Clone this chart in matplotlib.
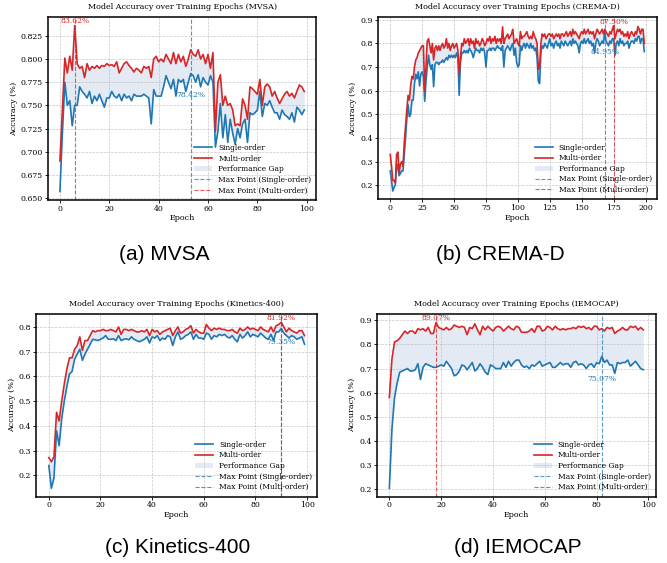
import numpy as np
import matplotlib
matplotlib.use("Agg")
import matplotlib.pyplot as plt

plt.rcParams['font.family'] = 'DejaVu Serif'

# ---- data (accuracy per epoch) ----
mvsa_single = [0.657, 0.720, 0.775, 0.750, 0.755, 0.728, 0.750, 0.750, 0.770, 0.765,
               0.762, 0.758, 0.765, 0.752, 0.760, 0.755, 0.762, 0.755, 0.748, 0.758,
               0.758, 0.765, 0.760, 0.758, 0.762, 0.755, 0.762, 0.758, 0.760, 0.755,
               0.762, 0.760, 0.760, 0.760, 0.762, 0.760, 0.758, 0.730, 0.767, 0.760,
               0.760, 0.760, 0.770, 0.782, 0.775, 0.768, 0.778, 0.760, 0.778, 0.775,
               0.778, 0.765, 0.775, 0.7842, 0.782, 0.775, 0.783, 0.770, 0.780, 0.775,
               0.772, 0.782, 0.775, 0.705, 0.722, 0.752, 0.715, 0.740, 0.710, 0.735,
               0.720, 0.708, 0.725, 0.715, 0.730, 0.735, 0.710, 0.742, 0.740, 0.742,
               0.745, 0.765, 0.738, 0.752, 0.750, 0.755, 0.748, 0.742, 0.742, 0.735,
               0.745, 0.740, 0.738, 0.735, 0.742, 0.732, 0.748, 0.745, 0.740, 0.745]
mvsa_multi = [0.690, 0.745, 0.801, 0.785, 0.803, 0.788, 0.8362, 0.795, 0.790, 0.792,
              0.780, 0.795, 0.788, 0.792, 0.790, 0.793, 0.790, 0.793, 0.792, 0.795,
              0.793, 0.794, 0.792, 0.797, 0.785, 0.790, 0.795, 0.797, 0.793, 0.790,
              0.786, 0.790, 0.788, 0.785, 0.792, 0.790, 0.792, 0.780, 0.800, 0.803,
              0.797, 0.800, 0.797, 0.805, 0.800, 0.795, 0.807, 0.795, 0.805, 0.797,
              0.803, 0.792, 0.800, 0.810, 0.805, 0.803, 0.810, 0.800, 0.805, 0.795,
              0.805, 0.790, 0.807, 0.722, 0.775, 0.783, 0.750, 0.760, 0.750, 0.752,
              0.745, 0.728, 0.730, 0.728, 0.757, 0.750, 0.735, 0.770, 0.768, 0.765,
              0.762, 0.778, 0.750, 0.770, 0.773, 0.770, 0.760, 0.765, 0.758, 0.752,
              0.757, 0.762, 0.765, 0.760, 0.763, 0.758, 0.765, 0.772, 0.770, 0.765]

crema_single = [0.26, 0.22, 0.175, 0.19, 0.20, 0.29, 0.27, 0.24, 0.25, 0.26,
                0.26, 0.33, 0.40, 0.48, 0.54, 0.49, 0.50, 0.56, 0.56, 0.63,
                0.67, 0.65, 0.68, 0.62, 0.67, 0.68, 0.66, 0.555, 0.64, 0.70,
                0.75, 0.71, 0.69, 0.71, 0.617, 0.71, 0.72, 0.72, 0.71, 0.72,
                0.72, 0.73, 0.72, 0.73, 0.74, 0.73, 0.75, 0.74, 0.75, 0.74,
                0.75, 0.74, 0.76, 0.74, 0.58, 0.72, 0.76, 0.76, 0.77, 0.76,
                0.77, 0.76, 0.78, 0.77, 0.76, 0.74, 0.76, 0.78, 0.77, 0.77,
                0.76, 0.78, 0.77, 0.78, 0.76, 0.70, 0.77, 0.77, 0.78, 0.77,
                0.78, 0.78, 0.77, 0.78, 0.79, 0.78, 0.78, 0.77, 0.79, 0.70,
                0.77, 0.78, 0.79, 0.78, 0.77, 0.79, 0.80, 0.75, 0.78, 0.72,
                0.70, 0.71, 0.79, 0.77, 0.79, 0.80, 0.78, 0.80, 0.79, 0.78,
                0.80, 0.78, 0.79, 0.77, 0.78, 0.74, 0.64, 0.63, 0.76, 0.79,
                0.78, 0.80, 0.79, 0.78, 0.80, 0.82, 0.79, 0.80, 0.78, 0.80,
                0.81, 0.79, 0.80, 0.78, 0.81, 0.80, 0.79, 0.81, 0.80, 0.79,
                0.80, 0.81, 0.79, 0.82, 0.80, 0.81, 0.80, 0.79, 0.76, 0.80,
                0.81, 0.80, 0.82, 0.80, 0.81, 0.82, 0.80, 0.81, 0.79, 0.80,
                0.76, 0.80, 0.82, 0.81, 0.79, 0.80, 0.81, 0.80, 0.8495, 0.81,
                0.80, 0.79, 0.81, 0.80, 0.82, 0.82, 0.75, 0.80, 0.81, 0.79,
                0.82, 0.80, 0.81, 0.79, 0.80, 0.80, 0.81, 0.78, 0.80, 0.81,
                0.81, 0.80, 0.82, 0.81, 0.83, 0.83, 0.80, 0.82, 0.82, 0.765]
crema_multi = [0.33, 0.28, 0.22, 0.22, 0.21, 0.33, 0.34, 0.25, 0.29, 0.30,
               0.28, 0.38, 0.45, 0.52, 0.58, 0.56, 0.62, 0.66, 0.65, 0.70,
               0.73, 0.74, 0.76, 0.77, 0.78, 0.79, 0.79, 0.60, 0.70, 0.81,
               0.82, 0.79, 0.76, 0.80, 0.73, 0.78, 0.79, 0.77, 0.79, 0.77,
               0.79, 0.80, 0.78, 0.79, 0.82, 0.78, 0.80, 0.77, 0.79, 0.80,
               0.78, 0.79, 0.80, 0.77, 0.67, 0.74, 0.80, 0.79, 0.82, 0.80,
               0.81, 0.82, 0.79, 0.82, 0.80, 0.81, 0.78, 0.82, 0.80, 0.81,
               0.79, 0.80, 0.82, 0.81, 0.79, 0.80, 0.82, 0.81, 0.83, 0.80,
               0.82, 0.81, 0.83, 0.80, 0.82, 0.81, 0.82, 0.80, 0.87, 0.80,
               0.82, 0.83, 0.84, 0.82, 0.83, 0.84, 0.86, 0.80, 0.81, 0.82,
               0.80, 0.79, 0.85, 0.82, 0.83, 0.83, 0.84, 0.85, 0.83, 0.82,
               0.83, 0.82, 0.85, 0.83, 0.82, 0.80, 0.69, 0.70, 0.80, 0.84,
               0.83, 0.84, 0.82, 0.83, 0.84, 0.84, 0.83, 0.84, 0.82, 0.83,
               0.84, 0.83, 0.84, 0.82, 0.84, 0.84, 0.83, 0.84, 0.85, 0.83,
               0.84, 0.85, 0.83, 0.86, 0.84, 0.85, 0.84, 0.83, 0.82, 0.84,
               0.85, 0.84, 0.86, 0.84, 0.85, 0.86, 0.84, 0.85, 0.84, 0.85,
               0.82, 0.84, 0.86, 0.85, 0.84, 0.85, 0.86, 0.84, 0.86, 0.85,
               0.84, 0.83, 0.85, 0.84, 0.86, 0.875, 0.82, 0.84, 0.86, 0.85,
               0.86, 0.84, 0.85, 0.83, 0.84, 0.83, 0.85, 0.82, 0.84, 0.85,
               0.84, 0.83, 0.85, 0.84, 0.872, 0.86, 0.84, 0.86, 0.86, 0.80]

kinetics_single = [0.24, 0.148, 0.19, 0.38, 0.32, 0.43, 0.50, 0.56, 0.61, 0.62,
                   0.67, 0.69, 0.71, 0.665, 0.69, 0.71, 0.73, 0.75, 0.748, 0.745,
                   0.75, 0.755, 0.765, 0.75, 0.75, 0.752, 0.745, 0.765, 0.745, 0.75,
                   0.752, 0.748, 0.76, 0.75, 0.745, 0.74, 0.745, 0.75, 0.76, 0.735,
                   0.76, 0.755, 0.765, 0.745, 0.755, 0.75, 0.765, 0.76, 0.725, 0.76,
                   0.78, 0.75, 0.755, 0.765, 0.77, 0.78, 0.75, 0.77, 0.755, 0.755,
                   0.75, 0.775, 0.77, 0.75, 0.765, 0.76, 0.77, 0.765, 0.77, 0.76,
                   0.755, 0.765, 0.75, 0.74, 0.77, 0.755, 0.765, 0.78, 0.76, 0.77,
                   0.765, 0.76, 0.775, 0.765, 0.755, 0.75, 0.77, 0.745, 0.78, 0.78,
                   0.7935, 0.775, 0.765, 0.755, 0.765, 0.76, 0.75, 0.755, 0.76, 0.73]
kinetics_multi = [0.272, 0.255, 0.275, 0.455, 0.42, 0.50, 0.57, 0.63, 0.675, 0.675,
                  0.71, 0.725, 0.76, 0.705, 0.745, 0.745, 0.765, 0.785, 0.78, 0.785,
                  0.785, 0.79, 0.785, 0.785, 0.79, 0.785, 0.78, 0.80, 0.77, 0.79,
                  0.79, 0.785, 0.79, 0.785, 0.78, 0.78, 0.785, 0.78, 0.79, 0.765,
                  0.79, 0.78, 0.785, 0.77, 0.78, 0.785, 0.79, 0.795, 0.765, 0.785,
                  0.80, 0.775, 0.78, 0.79, 0.795, 0.805, 0.775, 0.79, 0.78, 0.775,
                  0.775, 0.81, 0.795, 0.785, 0.795, 0.79, 0.795, 0.79, 0.79, 0.785,
                  0.785, 0.79, 0.78, 0.775, 0.795, 0.785, 0.79, 0.80, 0.79, 0.795,
                  0.79, 0.785, 0.80, 0.79, 0.785, 0.78, 0.80, 0.78, 0.805, 0.81,
                  0.8192, 0.80, 0.78, 0.795, 0.785, 0.78, 0.775, 0.785, 0.785, 0.765]

iemocap_single = [0.205, 0.45, 0.58, 0.64, 0.685, 0.69, 0.695, 0.70, 0.69, 0.69,
                  0.695, 0.72, 0.655, 0.705, 0.72, 0.715, 0.71, 0.705, 0.705, 0.71,
                  0.715, 0.71, 0.73, 0.715, 0.70, 0.67, 0.675, 0.69, 0.715, 0.71,
                  0.695, 0.71, 0.725, 0.69, 0.70, 0.72, 0.705, 0.685, 0.675, 0.715,
                  0.71, 0.70, 0.70, 0.70, 0.725, 0.705, 0.73, 0.71, 0.725, 0.735,
                  0.735, 0.715, 0.705, 0.71, 0.70, 0.715, 0.71, 0.72, 0.73, 0.71,
                  0.715, 0.72, 0.725, 0.705, 0.705, 0.715, 0.725, 0.715, 0.72, 0.72,
                  0.705, 0.725, 0.73, 0.715, 0.72, 0.715, 0.70, 0.715, 0.72, 0.705,
                  0.725, 0.72, 0.7507, 0.725, 0.735, 0.715, 0.715, 0.68, 0.725, 0.72,
                  0.725, 0.725, 0.735, 0.71, 0.72, 0.73, 0.715, 0.70, 0.695]
iemocap_multi = [0.58, 0.74, 0.81, 0.815, 0.825, 0.84, 0.855, 0.845, 0.855, 0.855,
                 0.845, 0.865, 0.86, 0.865, 0.855, 0.87, 0.845, 0.845, 0.8907, 0.87,
                 0.865, 0.86, 0.87, 0.86, 0.865, 0.88, 0.875, 0.87, 0.875, 0.87,
                 0.84, 0.87, 0.865, 0.885, 0.86, 0.84, 0.875, 0.86, 0.875, 0.865,
                 0.855, 0.87, 0.875, 0.87, 0.855, 0.865, 0.875, 0.865, 0.86, 0.875,
                 0.87, 0.85, 0.85, 0.85, 0.855, 0.865, 0.85, 0.875, 0.875, 0.855,
                 0.86, 0.875, 0.87, 0.86, 0.875, 0.865, 0.86, 0.865, 0.86, 0.865,
                 0.865, 0.87, 0.865, 0.875, 0.87, 0.875, 0.865, 0.87, 0.86, 0.875,
                 0.875, 0.86, 0.865, 0.855, 0.87, 0.865, 0.87, 0.845, 0.855, 0.86,
                 0.87, 0.86, 0.86, 0.875, 0.87, 0.875, 0.86, 0.87, 0.86]

datasets = ['MVSA', 'CREMA-D', 'Kinetics-400', 'IEMOCAP']
captions = ['(a) MVSA', '(b) CREMA-D', '(c) Kinetics-400', '(d) IEMOCAP']

BLUE = '#1f77b4'
RED = '#d62728'


def plot_panel(ax, single, multi, name, blue_off=-15):
    single = np.array(single)
    multi = np.array(multi)
    epochs = np.arange(len(single))

    ax.plot(epochs, single, color=BLUE, lw=1.2, label='Single-order')
    ax.plot(epochs, multi, color=RED, lw=1.2, label='Multi-order')
    ax.fill_between(epochs, single, multi, color='lightsteelblue', alpha=0.35,
                    lw=0, label='Performance Gap')

    i_s = np.argmax(single)
    i_m = np.argmax(multi)
    ax.axvline(i_s, color=BLUE, ls='--', lw=0.8, alpha=0.75, label='Max Point (Single-order)')
    ax.axvline(i_m, color=RED, ls='--', lw=0.8, alpha=0.75, label='Max Point (Multi-order)')
    ax.annotate('{:.2f}%'.format(single[i_s] * 100), (i_s, single[i_s]),
                xytext=(0, blue_off), textcoords='offset points',
                ha='center', va='center', color=BLUE, fontsize=5.5)
    ax.annotate('{:.2f}%'.format(multi[i_m] * 100), (i_m, multi[i_m]),
                xytext=(0, 3), textcoords='offset points',
                ha='center', va='center', color=RED, fontsize=5.5)

    ax.set_title('Model Accuracy over Training Epochs ({})'.format(name), fontsize=5.8)
    ax.set_xlabel('Epoch', fontsize=5.8, labelpad=1)
    ax.set_ylabel('Accuracy (%)', fontsize=5.8, labelpad=2)
    ax.tick_params(labelsize=5.6, length=2, width=0.6, pad=1.5)
    ax.grid(True, ls='--', lw=0.5, color='#b0b0b0', alpha=0.7)
    for s in ax.spines.values():
        s.set_linewidth(1.1)
    ax.legend(loc='lower right', fontsize=5.4, frameon=False, handlelength=2.4,
              borderaxespad=0.3, labelspacing=0.35)


fig = plt.figure(figsize=(6.67, 5.63), dpi=100)
positions = [[0.0715, 0.645, 0.403, 0.3245],
             [0.566, 0.646, 0.419, 0.323],
             [0.054, 0.118, 0.4217, 0.3245],
             [0.5647, 0.118, 0.4188, 0.324]]
series = [(mvsa_single, mvsa_multi), (crema_single, crema_multi),
          (kinetics_single, kinetics_multi), (iemocap_single, iemocap_multi)]
blue_offsets = [-15, -14.5, -10, -16]

for pos, (s, m), name, off in zip(positions, series, datasets, blue_offsets):
    ax = fig.add_axes(pos)
    plot_panel(ax, s, m, name, blue_off=off)

cap_xy = [(0.247, 0.548), (0.75, 0.548), (0.267, 0.027), (0.777, 0.027)]
for (x, y), c in zip(cap_xy, captions):
    fig.text(x, y, c, ha='center', va='center', fontsize=15, family='Liberation Sans')

fig.savefig('out.png', dpi=100)
